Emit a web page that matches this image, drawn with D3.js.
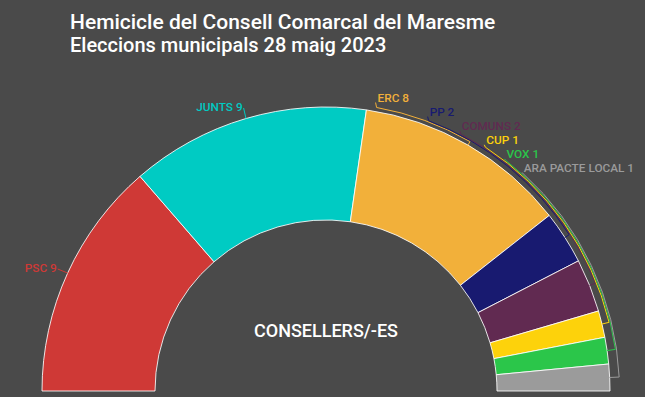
<!DOCTYPE html>
<html><head><meta charset="utf-8">
<script src="https://cdn.jsdelivr.net/npm/d3@7"></script>
<style>html,body{margin:0;padding:0;background:#4a4a4a;} svg{display:block;}</style>
</head><body>
<script>
const parties = ["PSC", "JUNTS", "ERC", "PP", "COMUNS", "CUP", "VOX", "ARA PACTE LOCAL"];
const seats = [9, 9, 8, 2, 2, 1, 1, 1];
const colors = ["#cf3936", "#00cbc3", "#f2b03a", "#181a70", "#612a51", "#fdd20b", "#2bc64a", "#9b9b9b"];
const title = "Hemicicle del Consell Comarcal del Maresme";
const subtitle = "Eleccions municipals 28 maig 2023";
const centerLabel = "CONSELLERS/-ES";

const W = 645, H = 397;
const svg = d3.select("body").append("svg").attr("width", W).attr("height", H);
svg.append("rect").attr("width", W).attr("height", H).attr("fill", "#4a4a4a");

svg.append("text").attr("x", 70).attr("y", 29).text(title)
  .attr("fill", "#ffffff").attr("font-family", "Roboto").attr("font-weight", 500).attr("font-size", 21);
svg.append("text").attr("x", 70).attr("y", 52).text(subtitle)
  .attr("fill", "#ffffff").attr("font-family", "Roboto").attr("font-weight", 500).attr("font-size", 20);

const cx = 326, cy = 391, R = 284, r0 = 171;
const data = parties.map((p, i) => ({party: p, seats: seats[i], color: colors[i]}));
const pie = d3.pie().value(d => d.seats).sort(null).startAngle(-Math.PI / 2).endAngle(Math.PI / 2);
const arcs = pie(data);
const arc = d3.arc().innerRadius(r0).outerRadius(R);
const g = svg.append("g").attr("transform", `translate(${cx},${cy})`);

g.selectAll("path.slice").data(arcs).join("path").attr("class", "slice")
  .attr("d", arc).attr("fill", d => d.data.color)
  .attr("stroke", "rgba(255,255,255,0.85)").attr("stroke-width", 1).attr("stroke-linejoin", "round");

const polar = (r, a) => [r * Math.sin(a), -r * Math.cos(a)];
const mid = d => (d.startAngle + d.endAngle) / 2;

const labelFont = {family: "Roboto", weight: 500, size: 11.8};
const lab = g.append("g");
let k = 0;
arcs.forEach(d => {
  const m = mid(d);
  const txt = d.data.party + " " + d.data.seats;
  if (m < 0) {
    const p = polar(296, m);
    const q = polar(R, m);
    lab.append("path").attr("d", `M${p[0] + 1},${p[1] + 1}L${q[0]},${q[1]}`)
      .attr("stroke", d.data.color).attr("fill", "none").attr("stroke-width", 1);
    lab.append("text").attr("x", p[0]).attr("y", p[1]).attr("dy", "0.35em")
      .attr("text-anchor", "end").text(txt).attr("fill", d.data.color)
      .attr("font-family", labelFont.family).attr("font-weight", labelFont.weight).attr("font-size", labelFont.size);
  } else {
    const yc = 97.5 + 14.1 * k - cy;
    const xc = Math.sqrt(298 * 298 - yc * yc);
    const rc = 288 + 1.1 * k;
    const sx = xc - 2, sy = yc + 5;
    const ae = Math.asin((sx + 1) / rc);
    const pe = polar(rc, ae);
    const pm = polar(rc, m);
    const q = polar(R, m);
    lab.append("path")
      .attr("d", `M${sx},${sy}L${pe[0]},${pe[1]}A${rc},${rc} 0 0 1 ${pm[0]},${pm[1]}L${q[0]},${q[1]}`)
      .attr("stroke", d.data.color).attr("fill", "none").attr("stroke-width", 1);
    lab.append("text").attr("x", xc).attr("y", yc).attr("dy", "0.35em")
      .attr("text-anchor", "start").text(txt).attr("fill", d.data.color)
      .attr("font-family", labelFont.family).attr("font-weight", labelFont.weight).attr("font-size", labelFont.size);
    k++;
  }
});

g.append("text").attr("x", 0).attr("y", 337 - cy).attr("text-anchor", "middle").text(centerLabel)
  .attr("fill", "#ffffff").attr("font-family", "Roboto").attr("font-weight", 500).attr("font-size", 18);
</script>
</body></html>
